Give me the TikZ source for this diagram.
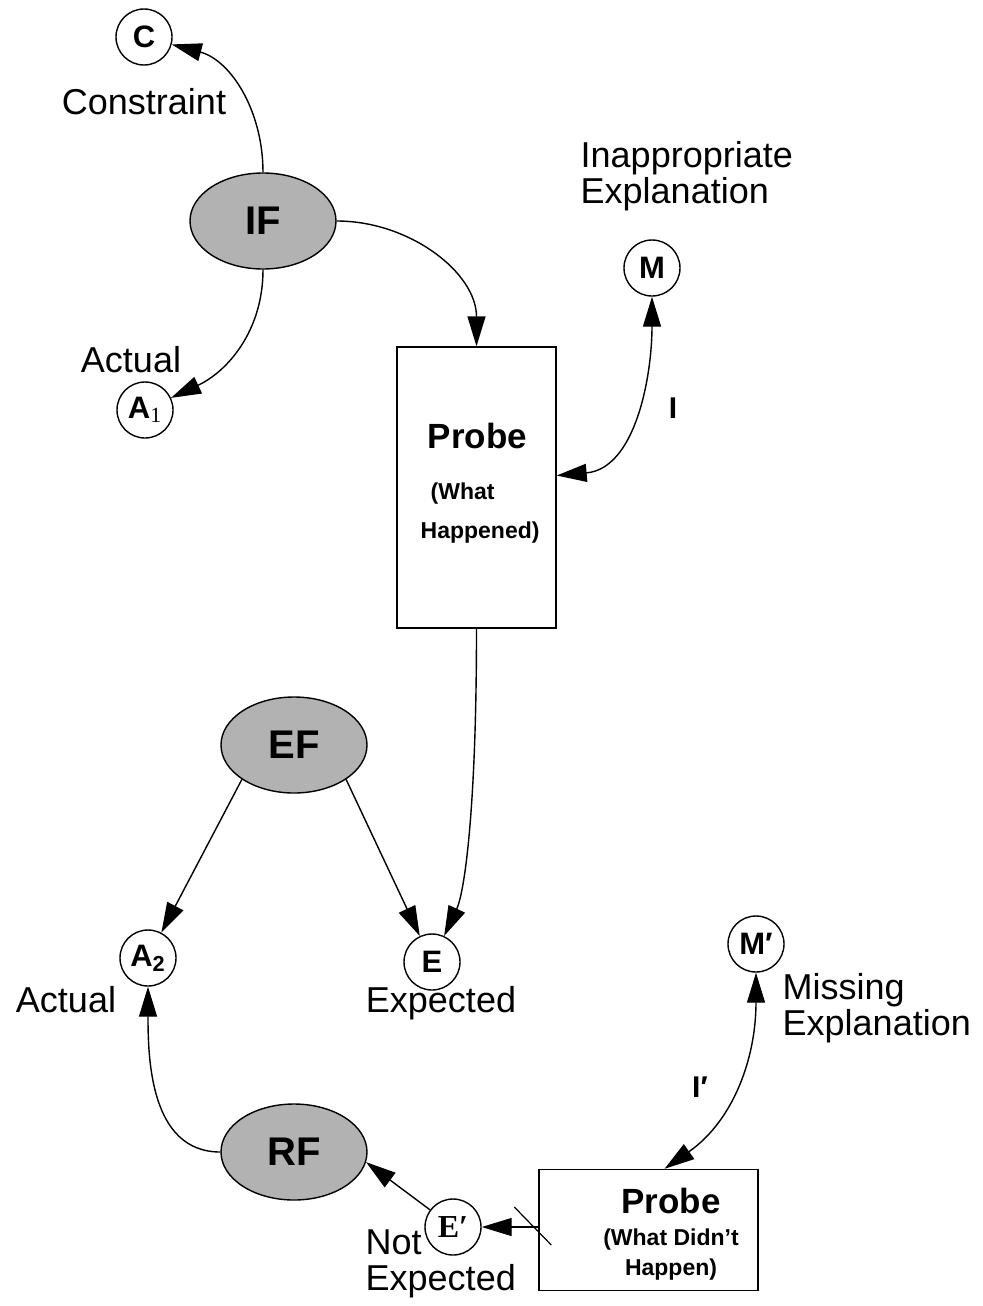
\documentclass[tikz,border=0pt]{standalone}
\usepackage{fontspec}
\setmainfont{Liberation Sans}
\newfontfamily\timesfont{Liberation Serif}
\usetikzlibrary{shapes.geometric,arrows.meta}
\definecolor{factgray}{gray}{0.7}

\begin{document}
\begin{tikzpicture}[x=0.5pt, y=-0.5pt,
    line width=0.7pt,
    >={Triangle[length=15pt,width=9pt]},
    state/.style={draw, circle, minimum size=28pt, inner sep=0pt,
        font=\fontsize{15.5}{15.5}\selectfont\bfseries},
    factor/.style={draw, ellipse, fill=factgray, minimum width=73pt,
        minimum height=48pt, font=\fontsize{20}{20}\selectfont\bfseries},
    probebox/.style={draw, rectangle, minimum width=#1},
    probetext/.style={inner sep=0pt, font=\fontsize{11.5}{#1}\selectfont\bfseries},
    caption/.style={inner sep=0pt, align=left,
        font=\fontsize{18}{18}\selectfont}]

    \useasboundingbox (0,0) rectangle (982,1306);

    \node[factor] (IF) at (263,221) {IF};
    \node[state] (C) at (144,37) {C};
    \node[state] (A1) at (145,410) {A\textsubscript{\timesfont\mdseries 1}};
    \node[probebox=79.5pt, minimum height=140.5pt] (probe) at (476.5,487.5) {};
    \node[probetext=19.5pt, align=left, anchor=west] (probe_label) at (420,483)
        {\hspace*{3.5pt}{\fontsize{17.5}{17.5}\selectfont Probe}\\[6pt]\hspace*{5pt}(What\\Happened)};
    \node[state] (M) at (652,268) {M};

    \node[factor] (EF) at (294,745) {EF};
    \node[state] (A2) at (148,958) {A\textsubscript{2}};
    \node[state] (E) at (432,962) {E};

    \node[state] (Mp) at (756,944) {M′};
    \node[factor] (RF) at (294,1152) {RF};
    \node[state, font=\fontsize{16}{16}\selectfont\timesfont\bfseries] (Ep) at (453,1227) {E′};
    \node[probebox=109.5pt, minimum height=60.5pt] (probe2) at (648.5,1230) {};
    \node[probetext=15pt, align=center] (probe2_label) at (671,1234)
        {{\fontsize{17.5}{17.5}\selectfont Probe}\\[1pt](What Didn’t\\Happen)};

    % labels
    \node[caption] (constraint_name) at (144,102) {Constraint};
    \node[caption] (actual_one) at (131,360) {Actual};
    \node[caption, anchor=west] (inappropriate) at (580,176) {Inappropriate\\Explanation};
    \node[caption] (actual_two) at (66,1000) {Actual};
    \node[caption] (expected) at (441,1003) {Expected};
    \node[caption, anchor=west] (missing) at (782,1008) {Missing\\Explanation};
    \node[caption, anchor=west] (notexpected) at (365,1264) {Not\\Expected};
    \node[font=\fontsize{15}{15}\selectfont\bfseries] (I) at (673,408) {I};
    \node[font=\fontsize{15}{15}\selectfont\bfseries] (Ip) at (700,1087) {I′};

    \coordinate (probe2_cut) at (probe2.west |- Ep);

    \path[->]
        (IF) edge[out=90, in=-15] (C)
        (IF) edge[out=-90, in=25] (A1)
        (IF) edge[out=0, in=90] (probe)
        (probe) edge[out=-90, in=65, out looseness=1.5, in looseness=0.4] (E)
        (EF.south west) edge (A2)
        (EF.south east) edge (E)
        (RF) edge[out=180, in=-90] (A2)
        (Ep) edge (RF.-8)
        (probe2_cut) edge (Ep);
    \path[<->]
        (M) edge[out=-90, in=5] ([yshift=6pt]probe.east)
        (Mp) edge[out=-90, in=35] ([xshift=8pt]probe2.north);

    \draw[line width=0.6pt] ([shift={(-24,-20)}]probe2_cut) -- ([shift={(13,18)}]probe2_cut);
\end{tikzpicture}
\end{document}
